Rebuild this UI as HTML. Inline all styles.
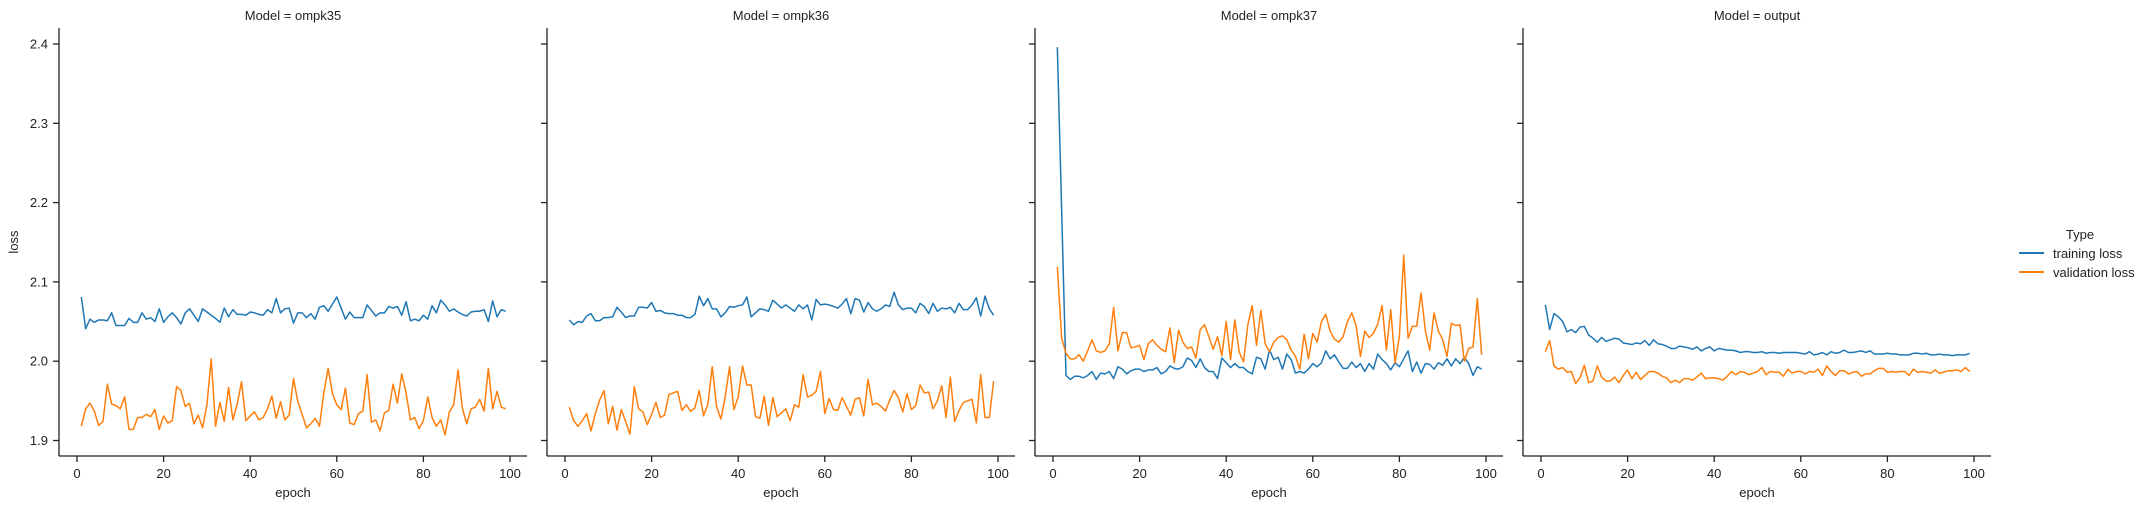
<!DOCTYPE html>
<html><head><meta charset="utf-8"><style>
html,body{margin:0;padding:0;background:#fff;}
svg{display:block;font-family:"Liberation Sans","DejaVu Sans",sans-serif;}
</style></head><body>
<svg id="chart" width="2147" height="509" viewBox="0 0 2147 509" xmlns="http://www.w3.org/2000/svg">
<g id="plots"></g>
<g>
  <text x="2080" y="239" font-size="13" text-anchor="middle" fill="#222">Type</text>
  <line x1="2019" y1="253" x2="2044" y2="253" stroke="#1f77b4" stroke-width="2"/>
  <text x="2053" y="258" font-size="13" fill="#222">training loss</text>
  <line x1="2019" y1="272" x2="2044" y2="272" stroke="#ff7f0e" stroke-width="2"/>
  <text x="2053" y="277" font-size="13" fill="#222">validation loss</text>
</g>
</svg>
<script>
const models = ["ompk35","ompk36","ompk37","output"];
const yTicks = [1.9,2.0,2.1,2.2,2.3,2.4];
const xTicks = [0,20,40,60,80,100];
const train35 = [2.081,2.041,2.053,2.049,2.052,2.052,2.051,2.061,2.045,2.045,2.045,2.054,2.049,2.049,2.061,2.053,2.055,2.050,2.066,2.049,2.056,2.061,2.055,2.047,2.061,2.066,2.058,2.050,2.066,2.062,2.058,2.054,2.049,2.067,2.056,2.065,2.059,2.059,2.058,2.062,2.061,2.059,2.058,2.065,2.061,2.079,2.061,2.066,2.067,2.048,2.061,2.061,2.055,2.060,2.053,2.068,2.070,2.063,2.072,2.081,2.067,2.053,2.062,2.055,2.055,2.055,2.071,2.064,2.057,2.061,2.061,2.069,2.067,2.069,2.058,2.075,2.051,2.053,2.051,2.058,2.053,2.070,2.061,2.077,2.071,2.063,2.066,2.062,2.059,2.057,2.062,2.063,2.063,2.065,2.050,2.076,2.056,2.065,2.063];
const val35 = [1.918,1.940,1.947,1.937,1.919,1.924,1.971,1.946,1.944,1.940,1.955,1.914,1.914,1.929,1.929,1.933,1.930,1.939,1.914,1.931,1.922,1.925,1.968,1.963,1.943,1.947,1.921,1.932,1.916,1.945,2.003,1.918,1.948,1.924,1.967,1.926,1.946,1.974,1.925,1.931,1.936,1.926,1.929,1.940,1.956,1.928,1.949,1.926,1.932,1.978,1.949,1.933,1.916,1.921,1.928,1.918,1.960,1.991,1.959,1.945,1.939,1.966,1.922,1.920,1.934,1.937,1.983,1.923,1.926,1.912,1.935,1.938,1.971,1.947,1.984,1.960,1.926,1.929,1.915,1.925,1.955,1.929,1.918,1.926,1.907,1.936,1.945,1.989,1.941,1.921,1.940,1.942,1.952,1.937,1.991,1.940,1.962,1.942,1.940];
const train36 = [2.052,2.046,2.050,2.049,2.057,2.060,2.051,2.051,2.055,2.055,2.056,2.068,2.062,2.055,2.057,2.057,2.068,2.068,2.067,2.074,2.063,2.064,2.061,2.060,2.060,2.058,2.058,2.055,2.055,2.059,2.082,2.070,2.079,2.066,2.066,2.056,2.061,2.069,2.068,2.070,2.071,2.081,2.056,2.061,2.066,2.065,2.063,2.077,2.072,2.067,2.071,2.067,2.063,2.071,2.066,2.071,2.052,2.078,2.071,2.072,2.071,2.069,2.067,2.072,2.079,2.060,2.079,2.077,2.062,2.074,2.066,2.063,2.066,2.071,2.069,2.087,2.071,2.065,2.067,2.067,2.061,2.073,2.069,2.060,2.073,2.063,2.067,2.066,2.068,2.061,2.073,2.065,2.065,2.071,2.080,2.057,2.082,2.066,2.058];
const val36 = [1.942,1.925,1.918,1.925,1.934,1.912,1.934,1.951,1.963,1.921,1.943,1.913,1.939,1.924,1.908,1.968,1.940,1.936,1.920,1.933,1.948,1.929,1.932,1.958,1.960,1.962,1.938,1.945,1.937,1.941,1.963,1.931,1.946,1.993,1.943,1.927,1.955,1.993,1.939,1.955,1.994,1.970,1.970,1.930,1.928,1.956,1.919,1.954,1.930,1.935,1.940,1.925,1.945,1.942,1.983,1.955,1.957,1.962,1.987,1.934,1.953,1.939,1.938,1.954,1.943,1.932,1.952,1.954,1.931,1.977,1.945,1.947,1.943,1.937,1.951,1.963,1.954,1.936,1.959,1.939,1.944,1.970,1.960,1.961,1.940,1.950,1.969,1.929,1.980,1.924,1.938,1.948,1.950,1.952,1.922,1.983,1.929,1.929,1.975];
const train37 = [2.396,2.190,1.982,1.977,1.981,1.981,1.979,1.982,1.987,1.977,1.985,1.984,1.987,1.978,1.993,1.990,1.984,1.988,1.990,1.990,1.987,1.989,1.989,1.992,1.984,1.987,1.994,1.991,1.990,1.993,2.004,2.001,1.992,2.003,1.992,1.987,1.987,1.978,2.004,1.998,1.992,1.997,1.992,1.992,1.987,1.984,2.005,2.003,1.990,2.014,2.002,2.005,1.990,2.009,2.002,1.985,1.987,1.985,1.990,1.997,1.993,1.998,2.013,2.003,2.008,1.999,1.991,1.991,1.999,1.992,1.997,1.987,1.997,1.990,2.009,2.002,1.997,1.989,1.998,1.993,2.003,2.013,1.987,1.999,1.985,1.997,1.996,1.990,1.998,1.995,2.003,1.994,2.003,1.997,2.005,1.997,1.982,1.993,1.990];
const val37 = [2.119,2.029,2.010,2.003,2.003,2.008,2.000,2.013,2.027,2.013,2.011,2.013,2.022,2.068,2.013,2.036,2.036,2.017,2.018,2.020,2.002,2.022,2.027,2.020,2.015,2.012,2.042,1.998,2.039,2.024,2.016,2.018,2.004,2.040,2.046,2.031,2.015,2.031,2.007,2.050,2.002,2.052,2.012,1.999,2.046,2.070,2.020,2.064,2.022,2.012,2.024,2.030,2.032,2.027,2.014,2.006,1.990,2.034,2.003,2.035,2.024,2.050,2.059,2.038,2.028,2.024,2.031,2.050,2.061,2.045,2.006,2.038,2.030,2.035,2.047,2.070,2.014,2.065,1.998,2.031,2.134,2.029,2.044,2.044,2.086,2.038,2.014,2.061,2.038,2.027,2.006,2.048,2.045,2.046,2.000,2.016,2.018,2.079,2.008];
const trainOut = [2.071,2.040,2.060,2.056,2.050,2.037,2.040,2.036,2.043,2.044,2.033,2.029,2.024,2.030,2.025,2.027,2.029,2.028,2.023,2.022,2.021,2.023,2.022,2.026,2.020,2.027,2.022,2.021,2.019,2.016,2.016,2.019,2.018,2.017,2.015,2.018,2.013,2.016,2.018,2.013,2.016,2.015,2.014,2.014,2.013,2.011,2.012,2.012,2.011,2.011,2.012,2.010,2.011,2.011,2.010,2.011,2.011,2.011,2.011,2.010,2.009,2.012,2.008,2.009,2.011,2.008,2.012,2.010,2.011,2.014,2.011,2.011,2.012,2.013,2.011,2.013,2.009,2.009,2.009,2.010,2.009,2.009,2.008,2.008,2.008,2.010,2.010,2.009,2.010,2.008,2.008,2.009,2.008,2.008,2.007,2.008,2.008,2.008,2.010];
const valOut = [2.012,2.026,1.994,1.990,1.992,1.986,1.987,1.972,1.979,1.995,1.973,1.975,1.994,1.980,1.975,1.975,1.980,1.973,1.982,1.989,1.978,1.986,1.977,1.982,1.987,1.987,1.985,1.981,1.979,1.973,1.976,1.973,1.978,1.978,1.976,1.980,1.985,1.978,1.979,1.979,1.978,1.976,1.981,1.987,1.983,1.987,1.986,1.983,1.985,1.987,1.992,1.983,1.987,1.986,1.986,1.981,1.990,1.985,1.987,1.987,1.984,1.987,1.986,1.990,1.982,1.994,1.987,1.982,1.988,1.988,1.984,1.986,1.987,1.981,1.984,1.984,1.988,1.991,1.991,1.986,1.987,1.986,1.987,1.987,1.982,1.990,1.986,1.987,1.986,1.985,1.989,1.985,1.986,1.988,1.988,1.989,1.987,1.992,1.987];
const trainSeries = [train35, train36, train37, trainOut];
const valSeries = [val35, val36, val37, valOut];

const NS = "http://www.w3.org/2000/svg";
const PANEL_STEP = 488, AX_LEFT = 59, AX_RIGHT = 527, AX_TOP = 28, AX_BOTTOM = 456;
function xScale(p, e){ return 77 + PANEL_STEP*p + e*4.33; }
function yScale(v){ return 44 + (2.4 - v)*793; }
function mk(tag, attrs, parent){ const el = document.createElementNS(NS, tag); for (const k in attrs) el.setAttribute(k, attrs[k]); parent.appendChild(el); return el; }
const root = document.getElementById("plots");

models.forEach((m, p) => {
  const off = PANEL_STEP*p;
  const g = mk("g", {}, root);
  
  
  const title = mk("text", {x: (AX_LEFT+AX_RIGHT)/2+off, y: 20, "font-size": 13, "text-anchor": "middle", fill: "#222"}, g);
  title.textContent = "Model = " + m;
  
  
  const ya = mk("line", {x1: AX_LEFT+off, y1: AX_TOP, x2: AX_LEFT+off, y2: AX_BOTTOM, stroke: "#222", "stroke-width": 1.3}, g);
  
  
  const xa = mk("line", {x1: AX_LEFT+off, y1: AX_BOTTOM, x2: AX_RIGHT+off, y2: AX_BOTTOM, stroke: "#222", "stroke-width": 1.3}, g);
  
  
  yTicks.forEach(t => {
    const y = yScale(t);
    const tk = mk("line", {x1: AX_LEFT+off-6, y1: y, x2: AX_LEFT+off, y2: y, stroke: "#222", "stroke-width": 1.3}, g);
    
    
    if (p === 0) {
      const tl = mk("text", {x: 48, y: y+4.5, "font-size": 13, "text-anchor": "end", fill: "#222"}, g);
      tl.textContent = t.toFixed(1);
      
      
    }
  });
  xTicks.forEach(t => {
    const x = xScale(p, t);
    const tk = mk("line", {x1: x, y1: AX_BOTTOM, x2: x, y2: AX_BOTTOM+6, stroke: "#222", "stroke-width": 1.3}, g);
    
    
    const tl = mk("text", {x: x, y: 478, "font-size": 13, "text-anchor": "middle", fill: "#222"}, g);
    tl.textContent = String(t);
    
    
  });
  const xl = mk("text", {x: (77+509)/2+off, y: 497, "font-size": 13, "text-anchor": "middle", fill: "#222"}, g);
  xl.textContent = "epoch";
  
  
  [[trainSeries[p], "#1f77b4", "training-loss-line"], [valSeries[p], "#ff7f0e", "validation-loss-line"]].forEach(([arr, col, nm]) => {
    const pts = arr.map((v, i) => xScale(p, i+1).toFixed(2) + "," + yScale(v).toFixed(2)).join(" ");
    const pl = mk("polyline", {points: pts, fill: "none", stroke: col, "stroke-width": 1.5, "stroke-linejoin": "round"}, g);
    
    
  });
});
const yl = mk("text", {x: 18, y: 242, "font-size": 13, "text-anchor": "middle", fill: "#222", transform: "rotate(-90 18 242)"}, root);
yl.textContent = "loss";


</script>
</body></html>
